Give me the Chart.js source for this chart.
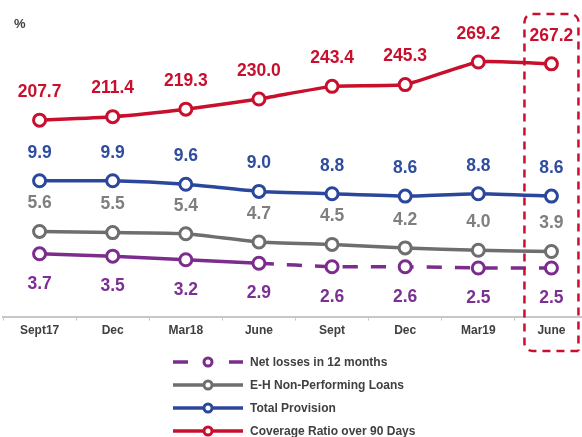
<!DOCTYPE html>
<html>
<head>
<meta charset="utf-8">
<script src="https://cdn.jsdelivr.net/npm/chart.js@4.4.1/dist/chart.umd.min.js"></script>
<style>
  html, body { margin: 0; padding: 0; background: #fff; overflow: hidden; }
  #wrap { width: 588px; height: 437px; position: relative; }
</style>
</head>
<body>
<div id="wrap"><canvas id="chart"></canvas></div>
<script>
const labels = ['Sept17', 'Dec', 'Mar18', 'June', 'Sept', 'Dec', 'Mar19', 'June'];
const netLosses = [3.7, 3.5, 3.2, 2.9, 2.6, 2.6, 2.5, 2.5];
const nonPerforming = [5.6, 5.5, 5.4, 4.7, 4.5, 4.2, 4.0, 3.9];
const totalProvision = [9.9, 9.9, 9.6, 9.0, 8.8, 8.6, 8.8, 8.6];
const coverageRatio = [207.7, 211.4, 219.3, 230.0, 243.4, 245.3, 269.2, 267.2];

const RED = '#c8102e';
const BLUE = '#2b479b';
const GREY = '#6e6e6e';
const PURPLE = '#7b2c8d';
const TEXT = '#404040';
const FONT = '"Liberation Sans", Arial, sans-serif';

function lineSet(label, data, color, axis, labelColor, labelOffset) {
    return {
        label,
        data,
        yAxisID: axis,
        borderColor: color,
        backgroundColor: '#fff',
        borderWidth: 3.5,
        pointRadius: 6,
        pointBorderWidth: 3,
        pointBackgroundColor: '#fff',
        pointBorderColor: color,
        tension: 0.15,
        labelColor,
        labelOffset
    };
}

const datasets = [
    lineSet('Net losses in 12 months', netLosses, PURPLE, 'y', '#7b3092', 30),
    lineSet('E-H Non-Performing Loans', nonPerforming, GREY, 'y', '#7f7f7f', -28),
    lineSet('Total Provision', totalProvision, BLUE, 'y', '#2f4d9e', -28),
    lineSet('Coverage Ratio over 90 Days', coverageRatio, RED, 'y2', RED, -28)
];
// net losses: solid up to June 18, dashed afterwards
datasets[0].segment = {
    borderDash: ctx => ctx.p0DataIndex >= 3 ? [15, 13] : undefined
};
datasets[0].legendDash = true;

// value labels, "%" unit, highlight box and legend
const extras = {
    id: 'extras',
    afterDatasetsDraw(chart) {
        const c = chart.ctx;
        c.save();
        c.textAlign = 'center';
        c.textBaseline = 'middle';
        c.font = 'bold 17.5px ' + FONT;
        chart.data.datasets.forEach((ds, i) => {
            const meta = chart.getDatasetMeta(i);
            c.fillStyle = ds.labelColor;
            meta.data.forEach((pt, j) => {
                c.fillText(ds.data[j].toFixed(1), pt.x, pt.y + ds.labelOffset);
            });
        });

        // unit
        c.textAlign = 'left';
        c.fillStyle = TEXT;
        c.font = 'bold 13px ' + FONT;
        c.fillText('%', 14, 24);

        // dashed highlight around last period
        const xs = chart.scales.x;
        const cx = xs.getPixelForValue(7);
        const l = cx - 27, r = cx + 27, t = 14, b = 351, rad = 8;
        c.strokeStyle = RED;
        c.lineWidth = 2.5;
        c.setLineDash([8, 6]);
        c.beginPath();
        c.moveTo(r, b);
        c.lineTo(l + rad, b);
        c.arcTo(l, b, l, b - rad, rad);
        c.lineTo(l, t + rad);
        c.arcTo(l, t, l + rad, t, rad);
        c.lineTo(r - rad, t);
        c.arcTo(r, t, r, t + rad, rad);
        c.lineTo(r, b);
        c.stroke();
        c.setLineDash([]);

        // legend
        const rows = [362, 385, 408, 431];
        c.font = 'bold 12px ' + FONT;
        c.textBaseline = 'middle';
        chart.data.datasets.forEach((ds, i) => {
            const y = rows[i];
            c.strokeStyle = ds.borderColor;
            c.lineWidth = 3.5;
            c.beginPath();
            if (ds.legendDash) {
                c.moveTo(173, y); c.lineTo(188, y);
                c.moveTo(229, y); c.lineTo(243, y);
            } else {
                c.moveTo(173, y); c.lineTo(243, y);
            }
            c.stroke();
            c.beginPath();
            c.arc(208, y, 4, 0, Math.PI * 2);
            c.fillStyle = '#fff';
            c.fill();
            c.lineWidth = 3;
            c.stroke();
            c.fillStyle = TEXT;
            c.fillText(ds.label, 250, y + 1);
        });
        c.restore();
    }
};

new Chart(document.getElementById('chart'), {
    type: 'line',
    data: { labels, datasets },
    options: {
        responsive: true,
        maintainAspectRatio: false,
        animation: false,
        layout: { autoPadding: false, padding: { left: 3, right: 0, top: 30, bottom: 96 } },
        plugins: {
            legend: { display: false },
            tooltip: { enabled: false }
        },
        scales: {
            x: {
                offset: true,
                grid: {
                    offset: true,
                    drawOnChartArea: false,
                    drawTicks: true,
                    tickLength: 4,
                    color: '#c8c8c8'
                },
                border: { color: '#c8c8c8', width: 2 },
                ticks: {
                    color: TEXT,
                    padding: 3,
                    font: { family: FONT, size: 12, weight: 'bold' }
                }
            },
            y: { display: false, min: -1.63, max: 22.7 },
            y2: { display: false, min: 0, max: 303 }
        }
    },
    plugins: [extras]
});
</script>
</body>
</html>
